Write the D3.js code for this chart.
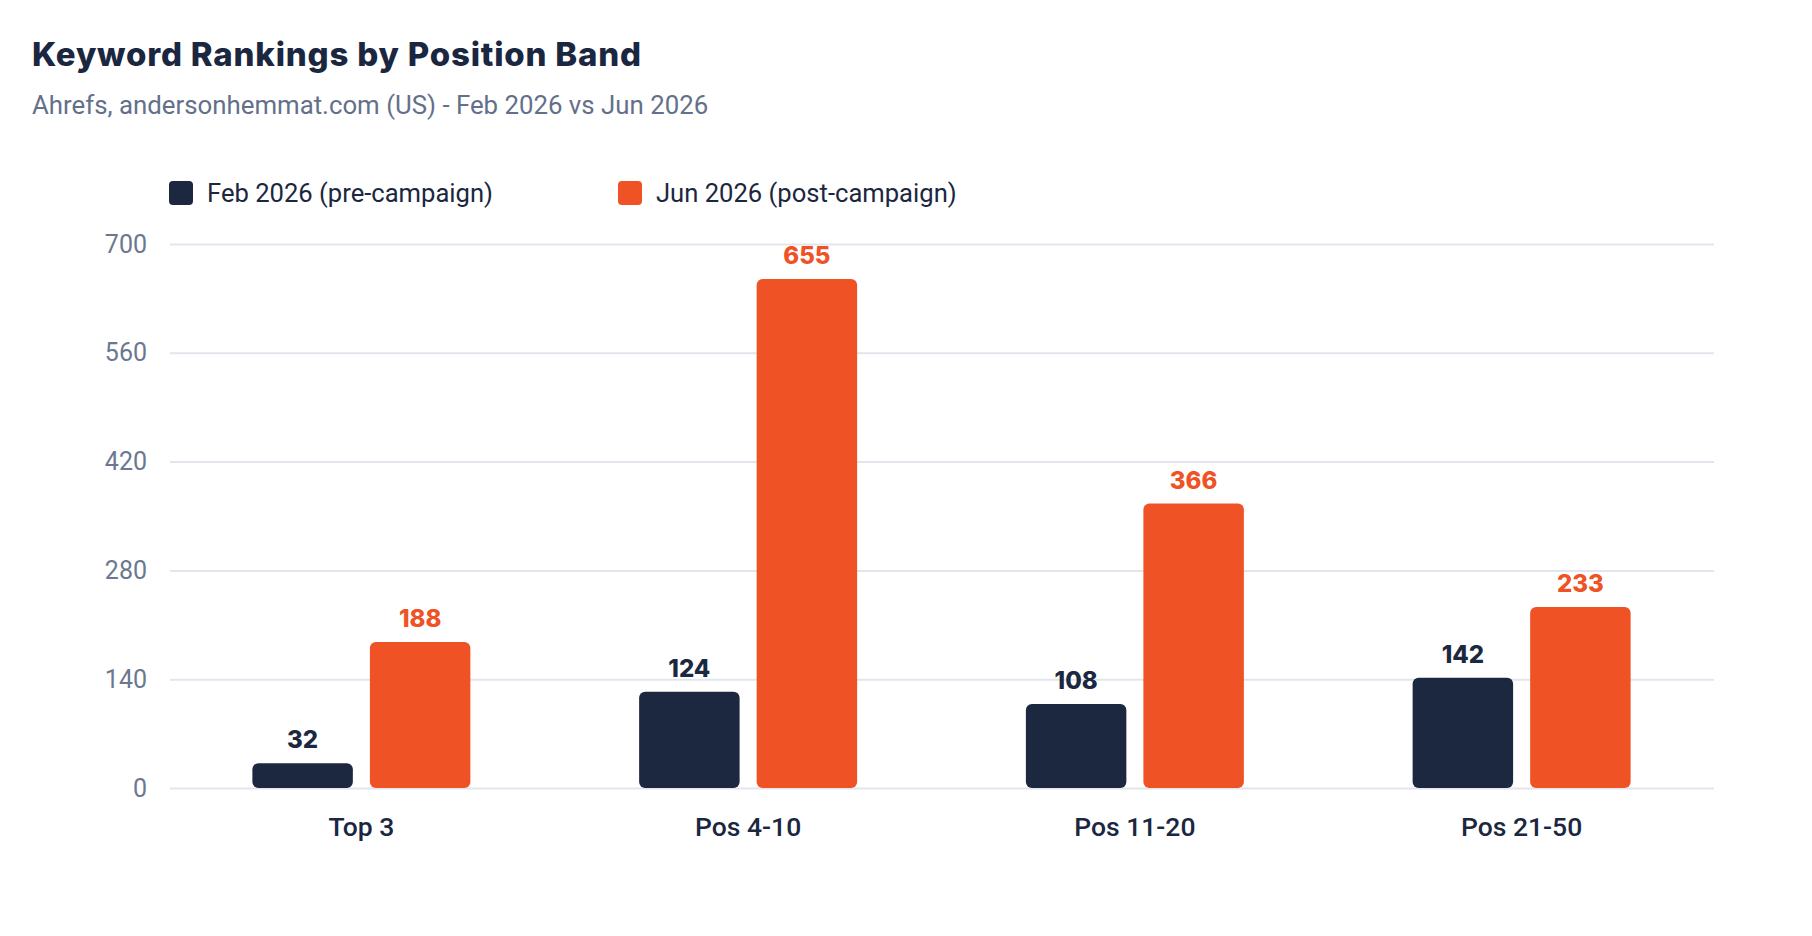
<!DOCTYPE html>
<html>
<head>
<meta charset="utf-8">
<script src="https://cdn.jsdelivr.net/npm/d3@7"></script>
<style>
  body { margin: 0; background: #fff; }
  svg { display: block; }
</style>
</head>
<body>
<div id="chart"></div>
<script>
const categories = ["Top 3", "Pos 4-10", "Pos 11-20", "Pos 21-50"];
const seriesNames = ["Feb 2026 (pre-campaign)", "Jun 2026 (post-campaign)"];
const febValues = [32, 124, 108, 142];
const junValues = [188, 655, 366, 233];
const yTicks = [0, 140, 280, 420, 560, 700];

const colors = ["#1c2840", "#ef5224"];

function chart() {
    const width = 1812,
        height = 936;
    const margin = {top: 244, right: 98, bottom: 148, left: 170};

    const svg = d3.select("#chart").append("svg")
        .attr("width", width)
        .attr("height", height);

    // title + subtitle
    svg.append("text")
        .attr("x", 32)
        .attr("y", 66)
        .attr("fill", "#1b2740")
        .style("font", "800 33px Inter, 'Open Sans', sans-serif")
        .style("letter-spacing", "0.8px")
        .text("Keyword Rankings by Position Band");

    svg.append("text")
        .attr("x", 32)
        .attr("y", 114)
        .attr("fill", "#64708a")
        .style("font", "400 25.8px Roboto, sans-serif")
        .text("Ahrefs, andersonhemmat.com (US) - Feb 2026 vs Jun 2026");

    // legend
    const legendX = [169, 618];
    const legend = svg.append("g").selectAll("g").data(seriesNames)
        .join("g")
        .attr("transform", (d, i) => `translate(${legendX[i]},181)`);
    legend.append("rect")
        .attr("width", 24)
        .attr("height", 24)
        .attr("rx", 4)
        .attr("fill", (d, i) => colors[i]);
    legend.append("text")
        .attr("x", 38)
        .attr("y", 21)
        .attr("fill", "#1b2740")
        .style("font", "400 25.6px Roboto, sans-serif")
        .text(d => d);

    const x0 = d3.scaleBand()
        .domain(categories)
        .range([margin.left - 2, width - margin.right + 1])
        .paddingInner(0)
        .paddingOuter(0);

    const x1 = d3.scaleBand()
        .domain([0, 1])
        .range([0, 218])
        .paddingInner(0.145);

    const y = d3.scaleLinear()
        .domain([0, 700])
        .range([height - margin.bottom, margin.top]);

    // grid + y labels
    const yAxis = svg.append("g")
        .attr("transform", `translate(${margin.left},0)`)
        .call(d3.axisLeft(y).tickValues(yTicks).tickSize(-(width - margin.left - margin.right)).tickPadding(23));
    yAxis.select(".domain").remove();
    yAxis.selectAll(".tick line")
        .attr("stroke", "#e2e5ec")
        .attr("stroke-width", 2);
    yAxis.selectAll(".tick text")
        .attr("fill", "#6b7890")
        .style("font", "400 25px Roboto, sans-serif");

    const groups = categories.map((c, i) => ({cat: c, values: [febValues[i], junValues[i]]}));

    const group = svg.append("g").selectAll("g").data(groups)
        .join("g")
        .attr("transform", d => `translate(${x0(d.cat) + x0.bandwidth() / 2 - 109},0)`);

    group.selectAll("rect")
        .data(d => d.values.map((v, i) => ({v, i})))
        .join("rect")
        .attr("x", d => x1(d.i))
        .attr("y", d => y(d.v))
        .attr("width", x1.bandwidth())
        .attr("height", d => y(0) - y(d.v))
        .attr("rx", 6)
        .attr("fill", d => colors[d.i]);

    group.selectAll("text.val")
        .data(d => d.values.map((v, i) => ({v, i})))
        .join("text")
        .attr("class", "val")
        .attr("x", d => x1(d.i) + x1.bandwidth() / 2)
        .attr("y", d => y(d.v) - 15)
        .attr("text-anchor", "middle")
        .attr("fill", d => colors[d.i])
        .style("font", "800 24px Inter, 'Open Sans', sans-serif")
        .text(d => d.v);

    // category labels
    svg.append("g").selectAll("text").data(categories)
        .join("text")
        .attr("x", d => x0(d) + x0.bandwidth() / 2)
        .attr("y", height - margin.bottom + 48)
        .attr("text-anchor", "middle")
        .attr("fill", "#1b2740")
        .style("font", "500 26.5px Roboto, sans-serif")
        .text(d => d);
}

window.onload = function() {
    chart();
};
</script>
</body>
</html>
